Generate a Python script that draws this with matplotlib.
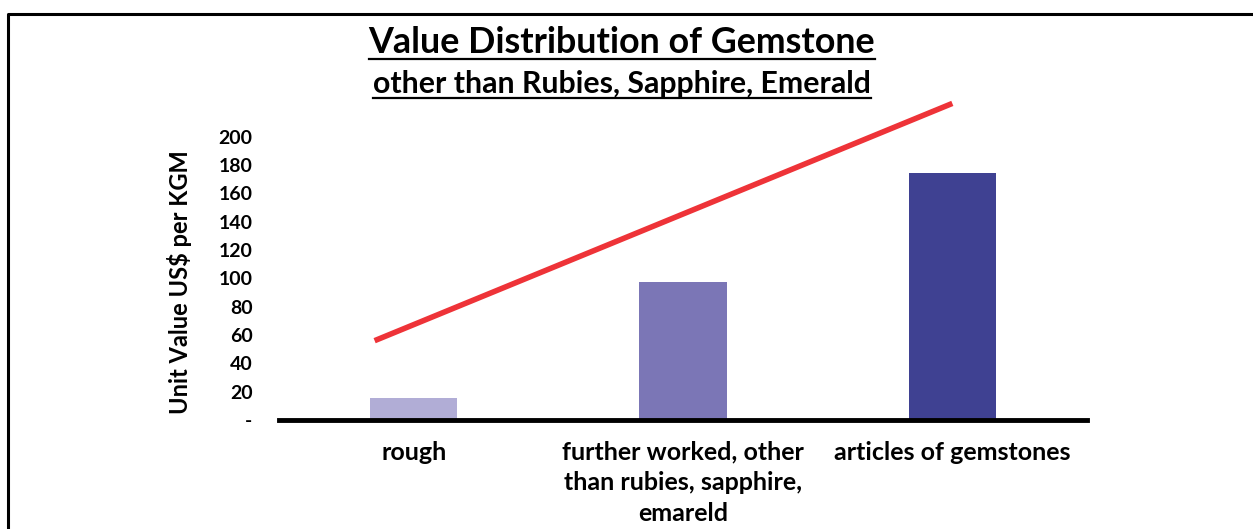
import matplotlib.pyplot as plt
from matplotlib.lines import Line2D

categories = ['rough', 'further worked, other\nthan rubies, sapphire,\nemareld', 'articles of gemstones']
values = [15.7, 97.4, 174.1]
colors = ['#b1add6', '#7b76b6', '#3f4192']
trend_x = [-0.145, 2.0]
trend_y = [56, 223.5]
yticks = [0, 20, 40, 60, 80, 100, 120, 140, 160, 180, 200]
ytick_labels = ['-'] + [str(v) for v in yticks[1:]]

plt.rcParams['font.family'] = ['Lato', 'DejaVu Sans']
plt.rcParams['font.weight'] = 'bold'

fig = plt.figure(figsize=(12.53, 5.29), dpi=100)
W, H = 1253, 529
ax = fig.add_axes([279 / W, 1 - 420 / H, (1087 - 279) / W, (420 - 136.7) / H])

x = list(range(len(categories)))
ax.bar(x, values, width=0.325, color=colors, zorder=2)
ax.plot(trend_x, trend_y, color='#ee3338', lw=4, clip_on=False, zorder=3,
        solid_capstyle='butt')

ax.set_xlim(-0.5, 2.5)
ax.set_ylim(0, 200)
ax.set_yticks(yticks)
ax.set_yticklabels(ytick_labels, fontsize=14, fontweight='bold')
ax.set_xticks(x)
ax.set_xticklabels(categories, fontsize=18, fontweight='bold', linespacing=1.4)
ax.tick_params(axis='y', length=0, pad=19)
ax.tick_params(axis='x', length=0, pad=15)
for s in ['top', 'right', 'left']:
    ax.spines[s].set_visible(False)
ax.spines['bottom'].set_linewidth(3.5)
ax.spines['bottom'].set_zorder(4)

ax.set_ylabel('Unit Value US$ per KGM', fontsize=17, fontweight='bold')
ax.yaxis.set_label_coords(-0.108, 0.485)

# titles, underlined by hand
t1 = fig.text(622 / W, 1 - 53 / H, 'Value Distribution of Gemstone', ha='center',
              va='baseline', fontsize=25.8, fontweight='bold')
t2 = fig.text(622 / W, 1 - 93 / H, 'other than Rubies, Sapphire, Emerald', ha='center',
              va='baseline', fontsize=21.8, fontweight='bold')
r = fig.canvas.get_renderer()
for t, uy in [(t1, 58.5), (t2, 98)]:
    bb = t.get_window_extent(r)
    fig.add_artist(Line2D([bb.x0 / W, bb.x1 / W], [1 - uy / H, 1 - uy / H],
                          color='black', lw=1.6))

# frame around the figure (only top and left visible in the reference)
fig.add_artist(Line2D([8 / W, 8 / W, 1.0], [0, 1 - 14 / H, 1 - 14 / H],
                      color='black', lw=2.2))

fig.savefig('out.png', dpi=100)
